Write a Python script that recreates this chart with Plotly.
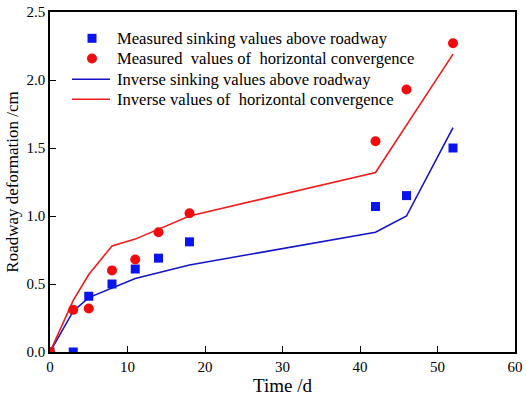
import plotly.graph_objects as go

# ---- data ----
time_meas = [0, 3, 5, 8, 11, 14, 18, 42, 46, 52]
sink_meas = [0.0, 0.0, 0.41, 0.50, 0.61, 0.69, 0.81, 1.07, 1.15, 1.50]
horiz_meas = [0.0, 0.31, 0.32, 0.60, 0.68, 0.88, 1.02, 1.55, 1.93, 2.27]

time_sink_inv = [0, 3, 5, 8, 11, 18, 42, 46, 52]
sink_inv = [0.0, 0.30, 0.40, 0.47, 0.54, 0.64, 0.88, 1.00, 1.65]

time_horiz_inv = [0, 3, 5, 8, 11, 18, 42, 52]
horiz_inv = [0.0, 0.38, 0.57, 0.78, 0.83, 1.00, 1.32, 2.19]

series_names = [
    "Measured sinking values above roadway",
    "Measured  values of  horizontal convergence",
    "Inverse sinking values above roadway",
    "Inverse values of  horizontal convergence",
]

font_family = "Liberation Serif, Times New Roman, serif"
BLUE_LINE = "#1414c8"
RED_LINE = "#ee1c1c"
BLUE_MK = "#0a14f0"
RED_MK = "#f00c0c"

W, H = 526, 397
ML, MR, MT, MB = 50, 11, 12, 45
PW, PH = W - ML - MR, H - MT - MB


def px_to_paper_x(px):
    return (px - ML) / PW


def px_to_paper_y(py):
    return (H - MB - py) / PH


fig = go.Figure()
fig.add_trace(go.Scatter(x=time_sink_inv, y=sink_inv, mode="lines",
                         line=dict(color=BLUE_LINE, width=1.6),
                         name=series_names[2], showlegend=False))
fig.add_trace(go.Scatter(x=time_horiz_inv, y=horiz_inv, mode="lines",
                         line=dict(color=RED_LINE, width=1.6),
                         name=series_names[3], showlegend=False))
fig.add_trace(go.Scatter(x=time_meas, y=sink_meas, mode="markers",
                         marker=dict(symbol="square", color=BLUE_MK, size=9),
                         name=series_names[0], showlegend=False))
fig.add_trace(go.Scatter(x=time_meas, y=horiz_meas, mode="markers",
                         marker=dict(symbol="circle", color=RED_MK, size=10),
                         name=series_names[1], showlegend=False))

# ---- manual legend (tight row spacing like the reference) ----
row_y = [38.3, 58.5, 79.2, 99.3]
text_x = 115
mk_x = 92
line_x0, line_x1 = 72, 110
annotations = []
shapes = []
for i, name in enumerate(series_names):
    annotations.append(dict(xref="paper", yref="paper",
                            x=px_to_paper_x(text_x), y=px_to_paper_y(row_y[i]),
                            xanchor="left", yanchor="middle", showarrow=False,
                            text=name,
                            font=dict(family=font_family, size=16.6, color="black")))
shapes.append(dict(type="rect", xref="paper", yref="paper",
                   xsizemode="pixel", ysizemode="pixel",
                   xanchor=px_to_paper_x(mk_x), yanchor=px_to_paper_y(row_y[0]),
                   x0=-4.5, x1=4.5, y0=-4.5, y1=4.5,
                   fillcolor=BLUE_MK, line=dict(width=0)))
shapes.append(dict(type="circle", xref="paper", yref="paper",
                   xsizemode="pixel", ysizemode="pixel",
                   xanchor=px_to_paper_x(mk_x), yanchor=px_to_paper_y(row_y[1]),
                   x0=-5, x1=5, y0=-5, y1=5,
                   fillcolor=RED_MK, line=dict(width=0)))
for i, col in ((2, BLUE_LINE), (3, RED_LINE)):
    shapes.append(dict(type="line", xref="paper", yref="paper",
                       x0=px_to_paper_x(line_x0), x1=px_to_paper_x(line_x1),
                       y0=px_to_paper_y(row_y[i]), y1=px_to_paper_y(row_y[i]),
                       line=dict(color=col, width=1.6)))

axis_common = dict(showline=True, linecolor="black", linewidth=1.5, mirror=True,
                   ticks="inside", ticklen=6, tickwidth=1.3, tickcolor="black",
                   showgrid=False, zeroline=False, automargin=False,
                   tickfont=dict(family=font_family, size=15, color="black"))

fig.update_xaxes(range=[0, 60], dtick=10, tick0=0,
                 title=dict(text="Time /d", font=dict(family=font_family, size=19, color="black"), standoff=2),
                 **axis_common)
fig.update_yaxes(range=[0, 2.5], dtick=0.5, tick0=0, tickformat=".1f",
                 title=dict(text="Roadway deformation /cm", font=dict(family=font_family, size=17, color="black"), standoff=4),
                 **axis_common)

fig.update_layout(
    width=W, height=H,
    margin=dict(l=ML, r=MR, t=MT, b=MB),
    paper_bgcolor="white", plot_bgcolor="white",
    font=dict(family=font_family, color="black"),
    showlegend=False,
    annotations=annotations,
    shapes=shapes,
)

fig.write_html("out.html", config={"displayModeBar": False},
               post_script="document.body.style.margin='0';")
